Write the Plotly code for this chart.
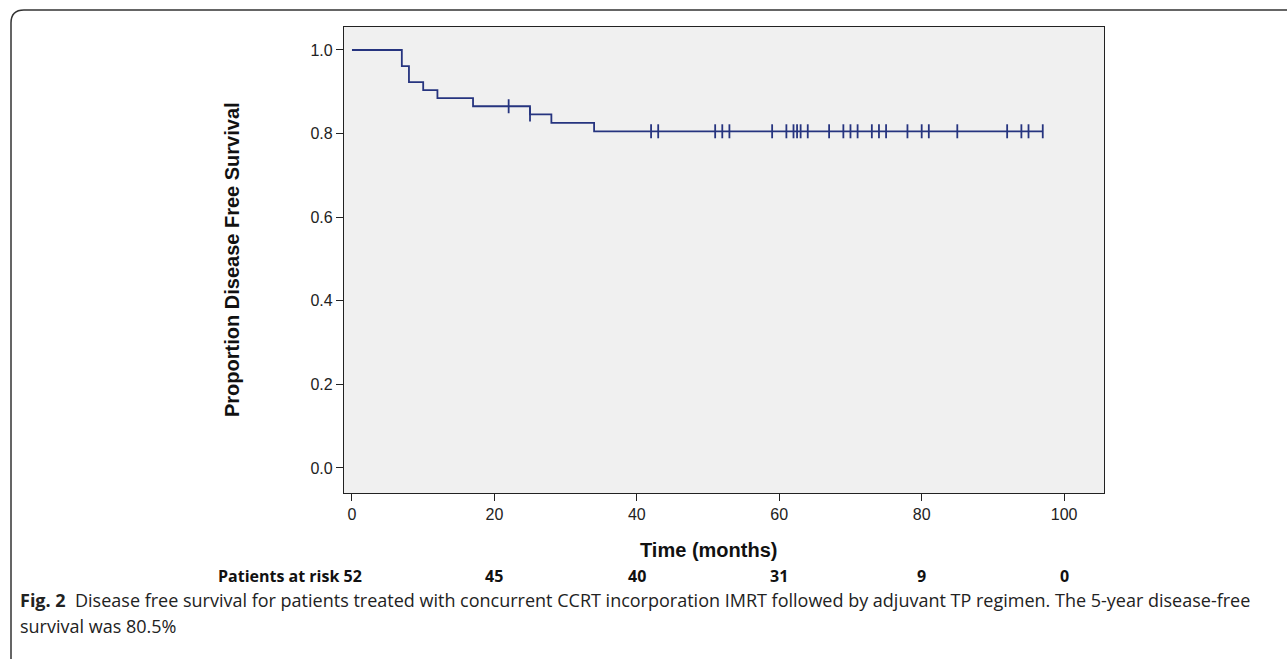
import plotly.graph_objects as go

# --- data ---
step_times = [0, 7, 8, 10, 12, 17, 25, 28, 34, 97]
step_surv = [1.0, 0.9615, 0.9231, 0.9038, 0.8846, 0.8654, 0.8457, 0.8256, 0.8055, 0.8055]

censor_times = [22, 25, 42, 43, 51, 52, 53, 59, 61, 62, 62.5, 63, 64, 67, 69, 70, 71,
                73, 74, 75, 78, 80, 81, 85, 92, 94, 95, 97]
censor_surv = [0.8654, 0.8457] + [0.8055] * 26

risk_times = [0, 20, 40, 60, 80, 100]
risk_counts = [52, 45, 40, 31, 9, 0]

x_ticks = [0, 20, 40, 60, 80, 100]
y_ticks = [0.0, 0.2, 0.4, 0.6, 0.8, 1.0]

W, H = 1287, 659
L, R, T, B = 344, 1104, 27, 493

def px(x):
    return (x - L) / (R - L)

def py(y):
    return (B - y) / (B - T)

LINE = "#26347f"

fig = go.Figure()
fig.add_trace(go.Scatter(x=step_times, y=step_surv, mode="lines",
                         line=dict(color=LINE, width=1.8, shape="hv"),
                         hoverinfo="skip", showlegend=False))
fig.add_trace(go.Scatter(x=censor_times, y=censor_surv, mode="markers",
                         marker=dict(symbol="line-ns", size=10,
                                     line=dict(color=LINE, width=1.8)),
                         hoverinfo="skip", showlegend=False))

AX = "Liberation Sans, Arial, sans-serif"
fig.update_xaxes(range=[-1.12, 105.6], tickvals=x_ticks, ticks="outside", ticklen=7,
                 tickwidth=1.3, tickcolor="#222", showgrid=False, zeroline=False,
                 showline=True, linecolor="#222", linewidth=1.3, mirror=True,
                 tickfont=dict(family=AX, size=16, color="#222"))
fig.update_yaxes(range=[-0.06, 1.055], tickvals=y_ticks, tickformat=".1f", ticks="outside",
                 ticklen=7, tickwidth=1.3, tickcolor="#222", showgrid=False, zeroline=False,
                 showline=True, linecolor="#222", linewidth=1.3, mirror=True,
                 tickfont=dict(family=AX, size=16, color="#222"))

ann = []
ann.append(dict(x=px(708), y=py(550), xref="paper", yref="paper", text="<b>Time (months)</b>",
                xanchor="center", yanchor="middle",
                showarrow=False, font=dict(family=AX, size=20, color="#111")))
ann.append(dict(x=px(232), y=py(260), xref="paper", yref="paper",
                text="<b>Proportion Disease Free Survival</b>", textangle=-90,
                xanchor="center", yanchor="middle",
                showarrow=False, font=dict(family=AX, size=20, color="#111")))
CF = "Open Sans, sans-serif"
for t, c in zip(risk_times, risk_counts):
    txt = f"<b>{c}</b>" if t != 0 else f"<b>Patients at risk {c}</b>"
    ann.append(dict(x=t, y=py(576), xref="x", yref="paper", text=txt, showarrow=False,
                    xanchor="center" if t != 0 else "right", yanchor="middle",
                    xshift=0 if t != 0 else 12,
                    font=dict(family=CF, size=16, color="#111")))
ann.append(dict(x=px(18), y=py(600), xref="paper", yref="paper", xanchor="left",
                yanchor="middle",
                text="<b>Fig. 2</b>  Disease free survival for patients treated with concurrent CCRT incorporation IMRT followed by adjuvant TP regimen. The 5-year disease-free",
                showarrow=False, font=dict(family=CF, size=18, color="#222")))
ann.append(dict(x=px(18), y=py(626), xref="paper", yref="paper", xanchor="left",
                yanchor="middle",
                text="survival was 80.5%", showarrow=False,
                font=dict(family=CF, size=18, color="#222")))

# outer rounded frame
p = (f"M {px(11)},{py(665)} L {px(11)},{py(23)} Q {px(11)},{py(10)} {px(24)},{py(10)} "
     f"L {px(1290)},{py(10)}")
shapes = [dict(type="path", path=p, xref="paper", yref="paper",
               line=dict(color="#333", width=1.5))]

fig.update_layout(width=W, height=H, margin=dict(l=L, r=W - R, t=T, b=H - B),
                  paper_bgcolor="white", plot_bgcolor="#f0f0f0",
                  annotations=ann, shapes=shapes, showlegend=False)
fig.write_html("out.html")
